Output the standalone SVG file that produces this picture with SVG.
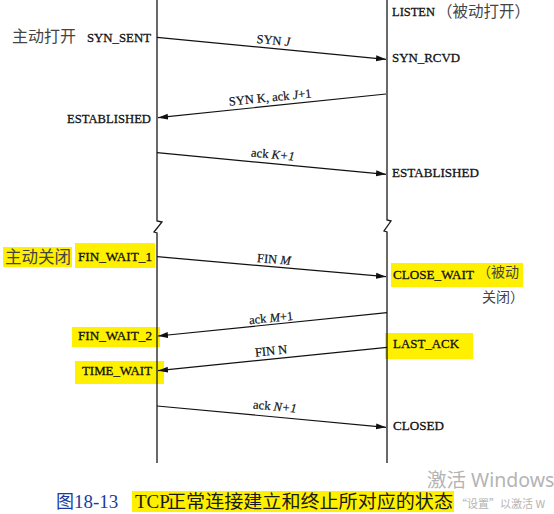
<svg xmlns="http://www.w3.org/2000/svg" width="554" height="514" viewBox="0 0 554 514">
<style>
.life{fill:none;stroke:#1a1a1a;stroke-width:1.3}
.msg{fill:none;stroke:#111;stroke-width:1.2;marker-end:url(#ah)}
.st{font-family:"Liberation Serif","Times New Roman","DejaVu Serif",serif;font-size:13.5px;fill:#111;stroke:#111;stroke-width:0.3}
.lb{font-family:"Liberation Serif","Times New Roman","DejaVu Serif",serif;font-size:12.5px;fill:#111;stroke:#111;stroke-width:0.2;text-anchor:middle}
.cj{font-family:"Noto Sans CJK SC",sans-serif;fill:#444}
.hl{fill:#fff000}
.it{font-style:italic}
.lat{font-family:"Liberation Serif","Times New Roman","DejaVu Serif",serif}
.han{font-family:"Noto Sans CJK SC",sans-serif}
</style>
<defs>
<marker id="ah" markerWidth="10" markerHeight="8" refX="10" refY="4" orient="auto" markerUnits="userSpaceOnUse">
<path d="M0,1 L10,4 L0,7 Z" fill="#111"/>
</marker>
</defs>
<g id="highlights">
<rect class="hl" x="3" y="247" width="69" height="20"/>
<rect class="hl" x="75" y="243" width="80" height="25"/>
<rect class="hl" x="72" y="327" width="88" height="20"/>
<rect class="hl" x="75" y="361" width="89" height="23"/>
<rect class="hl" x="391" y="263" width="132" height="24"/>
<rect class="hl" x="385" y="333" width="88" height="26"/>
<rect class="hl" x="132" y="491" width="322" height="21"/>
</g>
<g id="client">
<path class="life" d="M157,0 V221 L162,222 L154,232 L157,233 V463"/>
</g>
<g id="server">
<path class="life" d="M387,0 V220 L391,221 L384,231 L387,232 V463"/>
</g>
<g id="client-states">
<text class="cj" x="12" y="42" font-size="16">主动打开</text>
<text class="st" x="87" y="42" textLength="64" lengthAdjust="spacingAndGlyphs">SYN_SENT</text>
<text class="st" x="67" y="123" textLength="84" lengthAdjust="spacingAndGlyphs">ESTABLISHED</text>
<text class="cj" x="5" y="263" font-size="16.5">主动关闭</text>
<text class="st" x="78" y="261" textLength="74" lengthAdjust="spacingAndGlyphs">FIN_WAIT_1</text>
<text class="st" x="78" y="340" textLength="74" lengthAdjust="spacingAndGlyphs">FIN_WAIT_2</text>
<text class="st" x="82" y="375" textLength="70" lengthAdjust="spacingAndGlyphs">TIME_WAIT</text>
</g>
<g id="server-states">
<text class="st" x="392" y="16" textLength="43" lengthAdjust="spacingAndGlyphs">LISTEN</text>
<text class="cj" x="437" y="17" font-size="15.5">（被动打开）</text>
<text class="st" x="392" y="62" textLength="68" lengthAdjust="spacingAndGlyphs">SYN_RCVD</text>
<text class="st" x="392" y="177" textLength="87" lengthAdjust="spacingAndGlyphs">ESTABLISHED</text>
<text class="st" x="393" y="279" textLength="81" lengthAdjust="spacingAndGlyphs">CLOSE_WAIT</text>
<text class="cj" x="477" y="277" font-size="14">（被动</text>
<text class="cj" x="482" y="302" font-size="14">关闭）</text>
<text class="st" x="393" y="348" textLength="66" lengthAdjust="spacingAndGlyphs">LAST_ACK</text>
<text class="st" x="393" y="430" textLength="51" lengthAdjust="spacingAndGlyphs">CLOSED</text>
</g>
<g id="connectors">
<line class="msg" x1="157" y1="37.3" x2="386" y2="59.3"/>
<line class="msg" x1="386" y1="94" x2="158" y2="117.7"/>
<line class="msg" x1="157" y1="152.7" x2="386" y2="174.3"/>
<line class="msg" x1="157" y1="256.7" x2="386" y2="276.7"/>
<line class="msg" x1="387" y1="312.7" x2="158" y2="336"/>
<line class="msg" x1="387" y1="347.3" x2="158" y2="370.7"/>
<line class="msg" x1="157" y1="406" x2="386" y2="427.3"/>
<text class="lb" x="273" y="44.5" transform="rotate(5.5 273 44.5)">SYN <tspan class="it">J</tspan></text>
<text class="lb" x="270.5" y="101.5" transform="rotate(-5.9 270.5 101.5)">SYN K, ack <tspan class="it">J</tspan>+1</text>
<text class="lb" x="272.5" y="158.5" transform="rotate(5.4 272.5 158.5)">ack <tspan class="it">K+1</tspan></text>
<text class="lb" x="273.5" y="263.5" transform="rotate(5 273.5 263.5)">FIN <tspan class="it">M</tspan></text>
<text class="lb" x="271.5" y="322" transform="rotate(-5.8 271.5 322)">ack <tspan class="it">M</tspan>+1</text>
<text class="lb" x="271.5" y="355" transform="rotate(-5.8 271.5 355)">FIN N</text>
<text class="lb" x="274.5" y="410.5" transform="rotate(5.3 274.5 410.5)">ack <tspan class="it">N+1</tspan></text>
</g>
<g id="caption">
<text y="508" font-size="18" fill="#1c3c9c"><tspan class="han" x="56">图</tspan><tspan class="lat" x="74" font-size="19">18-13</tspan></text>
<text y="508" font-size="18" fill="#1a1a1a"><tspan class="lat" x="135" font-size="19">TCP</tspan><tspan class="han" x="167" textLength="286" lengthAdjust="spacingAndGlyphs">正常连接建立和终止所对应的状态</tspan></text>
</g>
<g id="watermark">
<text x="427" y="487" font-family="'Noto Sans','Noto Sans CJK SC',sans-serif" font-size="19.5" fill="#b4b4b4">激活 Windows</text>
<text x="456" y="508" font-family="'Noto Sans CJK SC',sans-serif" font-size="11" fill="#b4b4b4">“设置”以激活 W</text>
</g>
</svg>
